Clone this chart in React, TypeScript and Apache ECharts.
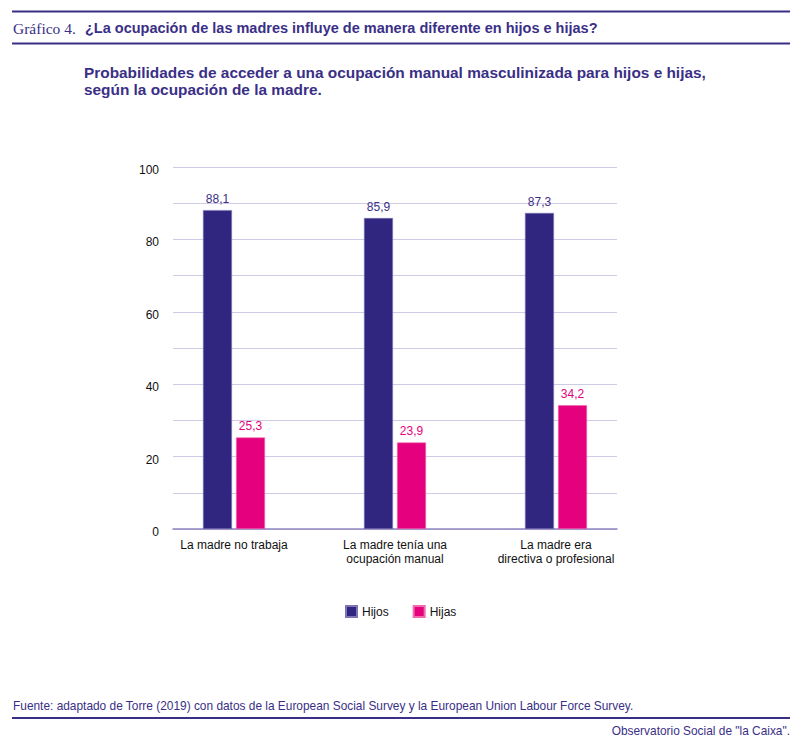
import React, { useEffect, useRef } from "react";
import * as echarts from "echarts";

const categories = ["La madre no trabaja", "La madre tenía una\nocupación manual", "La madre era\ndirectiva o profesional"];
const hijos = [88.1, 85.9, 87.3];
const hijas = [25.3, 23.9, 34.2];
const seriesNames = ["Hijos", "Hijas"];
const yTicks = [0, 20, 40, 60, 80, 100];

const PURPLE = "#30267f";
const PINK = "#e5007d";
const TEXT_PURPLE = "#3a2f86";

export default function App() {
  const ref = useRef<HTMLDivElement>(null);
  useEffect(() => {
    document.body.style.margin = "0";
    const chart = echarts.init(ref.current!, null, { renderer: "svg" });
    const fmt = (p: any) => String(p.value).replace(".", ",");
    chart.setOption({
      animation: false,
      backgroundColor: "#ffffff",
      textStyle: { fontFamily: "Liberation Sans, Arial, sans-serif" },
      grid: [
        { left: 153.5, right: 163.5, top: 167, bottom: 215 },
        { left: 173, right: 183, top: 167, bottom: 215 },
      ],
      xAxis: [
        {
          type: "category",
          gridIndex: 0,
          data: categories,
          axisLine: { show: false },
          axisTick: { show: false },
          axisLabel: { color: "#111", fontSize: 12, lineHeight: 14, margin: 9 },
        },
        {
          type: "value",
          gridIndex: 1,
          min: 0,
          max: 1,
          axisLine: { show: true, onZero: false, lineStyle: { color: "#8e87c2", width: 1.5 } },
          axisTick: { show: false },
          axisLabel: { show: false },
          splitLine: { show: false },
        },
      ],
      yAxis: [
        {
          type: "value",
          gridIndex: 0,
          min: 0,
          max: 100,
          show: false,
          splitLine: { show: false },
        },
        {
          type: "value",
          gridIndex: 1,
          min: 0,
          max: 100,
          interval: 10,
          axisLine: { show: false },
          axisTick: { show: false },
          axisLabel: {
            color: "#111",
            fontSize: 12,
            margin: 14,
            formatter: (v: number) => (yTicks.indexOf(v) >= 0 ? "{a|" + v + "}" : ""),
            rich: { a: { color: "#111", fontSize: 12, padding: [6, 0, 0, 0] } },
          },
          splitLine: { lineStyle: { color: "#cfcbe7", width: 1 } },
        },
      ],
      legend: {
        left: 340,
        top: 600,
        itemWidth: 11,
        itemHeight: 11,
        itemGap: 24,
        icon: "rect",
        textStyle: { color: "#111", fontSize: 12 },
        data: seriesNames,
      },
      series: [
        {
          name: seriesNames[0],
          type: "bar",
          xAxisIndex: 0,
          yAxisIndex: 0,
          data: hijos,
          barWidth: 29,
          barGap: "14%",
          itemStyle: { color: PURPLE, borderColor: "#7d76b5", borderWidth: 0.6 },
          label: { show: true, position: "top", distance: 5, color: TEXT_PURPLE, fontSize: 12, formatter: fmt },
        },
        {
          name: seriesNames[1],
          type: "bar",
          xAxisIndex: 0,
          yAxisIndex: 0,
          data: hijas,
          barWidth: 29,
          itemStyle: { color: PINK, borderColor: "#f06aae", borderWidth: 0.6 },
          label: { show: true, position: "top", distance: 5, color: PINK, fontSize: 12, formatter: fmt },
        },
      ],
      graphic: [
        { type: "line", shape: { x1: 12, y1: 11.5, x2: 790, y2: 11.5 }, style: { stroke: TEXT_PURPLE, lineWidth: 2 } },
        { type: "line", shape: { x1: 12, y1: 43.5, x2: 790, y2: 43.5 }, style: { stroke: TEXT_PURPLE, lineWidth: 2 } },
        {
          type: "text",
          x: 13,
          y: 28,
          style: { text: "Gráfico 4.", font: "15.5px 'Liberation Serif', serif", fill: TEXT_PURPLE, verticalAlign: "middle" },
        },
        {
          type: "text",
          x: 85,
          y: 28,
          style: {
            text: "¿La ocupación de las madres influye de manera diferente en hijos e hijas?",
            font: "bold 14.5px 'Liberation Sans', sans-serif",
            fill: TEXT_PURPLE,
            verticalAlign: "middle",
          },
        },
        {
          type: "text",
          x: 84,
          y: 80.5,
          style: {
            text: "Probabilidades de acceder a una ocupación manual masculinizada para hijos e hijas,\nsegún la ocupación de la madre.",
            font: "bold 15.4px 'Liberation Sans', sans-serif",
            lineHeight: 17,
            fill: TEXT_PURPLE,
            verticalAlign: "middle",
          },
        },
        {
          type: "text",
          x: 13,
          y: 706,
          style: {
            text: "Fuente: adaptado de Torre (2019) con datos de la European Social Survey y la European Union Labour Force Survey.",
            font: "11.9px 'Liberation Sans', sans-serif",
            fill: TEXT_PURPLE,
            verticalAlign: "middle",
          },
        },
        { type: "line", shape: { x1: 12, y1: 718, x2: 790, y2: 718 }, style: { stroke: TEXT_PURPLE, lineWidth: 2 } },
        {
          type: "text",
          x: 790,
          y: 731,
          style: {
            text: "Observatorio Social de \"la Caixa\".",
            font: "11.9px 'Liberation Sans', sans-serif",
            fill: TEXT_PURPLE,
            align: "right",
            verticalAlign: "middle",
          },
        },
      ],
    });
    return () => chart.dispose();
  }, []);
  return <div ref={ref} style={{ width: 800, height: 744 }} />;
}
